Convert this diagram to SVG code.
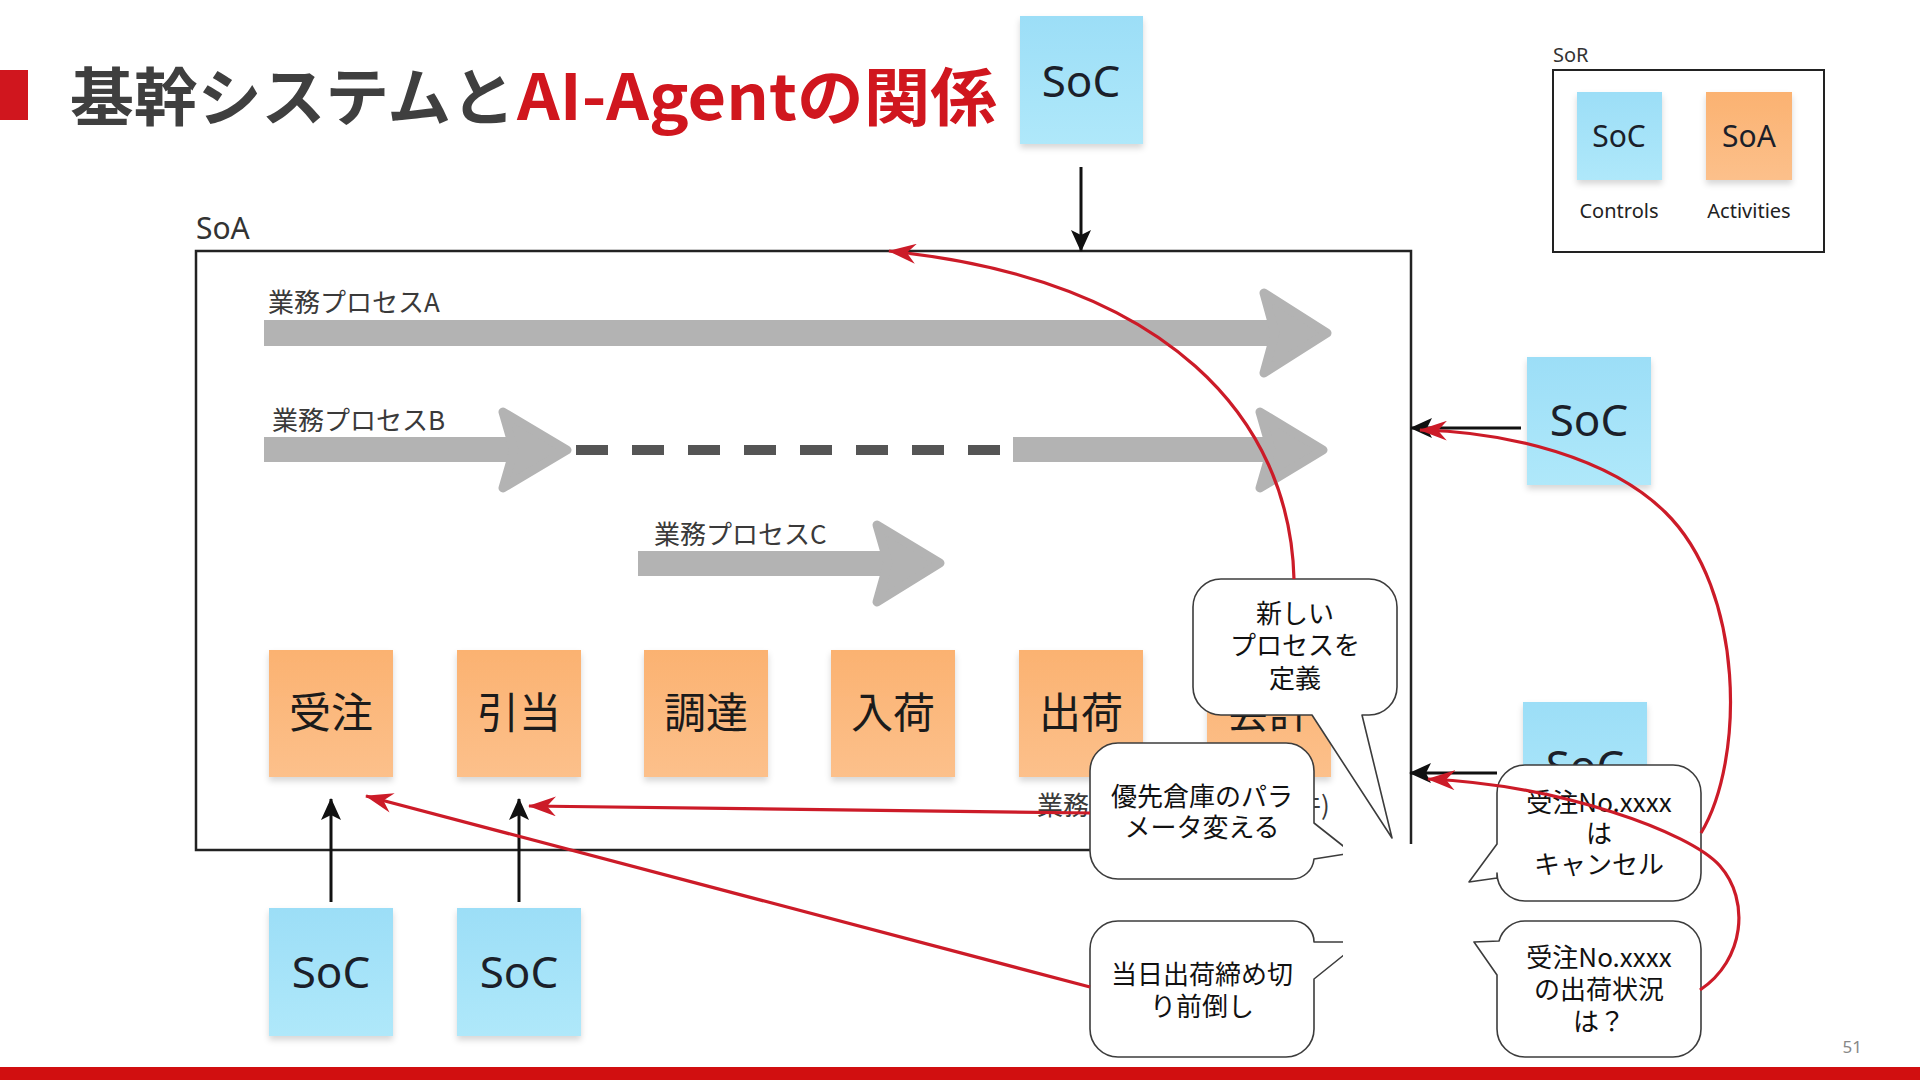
<svg xmlns="http://www.w3.org/2000/svg" width="1920" height="1080" viewBox="0 0 1920 1080">
<style>
.jp{font-family:"Noto Sans CJK JP","Noto Sans",sans-serif}
.lat{font-family:"Noto Sans","Noto Sans CJK JP",sans-serif}
.soc-t{font-size:44px;fill:#1b1f2a;text-anchor:middle}
.act-t{font-size:42px;fill:#1b1b1b;text-anchor:middle}
.lbl{font-size:26px;fill:#3a3a3a}
.bub{fill:#fff;stroke:#3c3c3c;stroke-width:1.6;stroke-linejoin:round}
.bt{font-size:26px;fill:#111;text-anchor:middle}
.shaft{fill:#b3b3b3}
.head{fill:#b3b3b3;stroke:#b3b3b3;stroke-width:9;stroke-linejoin:round}
.blk{fill:none;stroke:#111;stroke-width:3}
.red{fill:none;stroke:#cc1b28;stroke-width:3.2}
</style>
<defs>
<linearGradient id="gSoc" x1="0" y1="0" x2="0" y2="1"><stop offset="0" stop-color="#9cdef7"/><stop offset="1" stop-color="#afe8fa"/></linearGradient>
<linearGradient id="gAct" x1="0" y1="0" x2="0" y2="1"><stop offset="0" stop-color="#fbb271"/><stop offset="1" stop-color="#fcc08b"/></linearGradient>
<filter id="sh" x="-10%" y="-10%" width="120%" height="130%"><feDropShadow dx="0" dy="4" stdDeviation="3" flood-color="#000" flood-opacity="0.16"/></filter>
<marker id="mb" markerUnits="userSpaceOnUse" viewBox="0 0 22 22" markerWidth="22" markerHeight="22" refX="21" refY="11" orient="auto"><path d="M0,1 L22,11 L0,21 L5,11 Z" fill="#111"/></marker>
<marker id="mr" markerUnits="userSpaceOnUse" viewBox="0 0 28 20" markerWidth="28" markerHeight="20" refX="27" refY="10" orient="auto"><path d="M0,0 L28,10 L0,20 L9,10 Z" fill="#cc1b28"/></marker>
</defs>
<rect width="1920" height="1080" fill="#fff"/>

<g id="title">
<rect x="0" y="70" width="28" height="50" fill="#d0161e"/>
<text class="jp" x="70" y="120" font-size="63" font-weight="700" fill="#3f3f3f" textLength="445" lengthAdjust="spacingAndGlyphs">基幹システムと</text>
<text class="jp" x="517" y="120" font-size="63" font-weight="700" fill="#d0161e" textLength="480" lengthAdjust="spacingAndGlyphs">AI-Agentの関係</text>
</g>

<g id="legend">
<text class="lat" x="1553" y="62" font-size="20" fill="#333">SoR</text>
<rect x="1553" y="70" width="271" height="182" fill="none" stroke="#222" stroke-width="2"/>
<rect x="1577" y="92" width="85" height="88" fill="url(#gSoc)" filter="url(#sh)"/>
<text class="lat" x="1619" y="147" font-size="30" fill="#1b1f2a" text-anchor="middle">SoC</text>
<rect x="1706" y="92" width="86" height="88" fill="url(#gAct)" filter="url(#sh)"/>
<text class="lat" x="1749" y="147" font-size="30" fill="#1b1f2a" text-anchor="middle">SoA</text>
<text class="lat" x="1619" y="218" font-size="20" fill="#222" text-anchor="middle">Controls</text>
<text class="lat" x="1749" y="218" font-size="20" fill="#222" text-anchor="middle">Activities</text>
</g>

<g id="soa-box">
<text class="lat" x="196" y="239" font-size="30" fill="#333">SoA</text>
<rect x="196" y="251" width="1215" height="599" fill="none" stroke="#222" stroke-width="2.5"/>
</g>

<g id="process-a">
<rect class="shaft" x="264" y="320" width="1026" height="26"/>
<path class="head" d="M1264,293 L1327,333 L1264,373 L1275,333 Z"/>
<text class="jp lbl" x="268" y="312">業務プロセスA</text>
</g>
<g id="process-b">
<rect class="shaft" x="264" y="437" width="266" height="25"/>
<path class="head" d="M503,412 L567,450 L503,488 L514,450 Z"/>
<line x1="576" y1="450" x2="1001" y2="450" stroke="#555" stroke-width="10" stroke-dasharray="32 24"/>
<rect class="shaft" x="1013" y="437" width="272" height="25"/>
<path class="head" d="M1260,412 L1323,450 L1260,488 L1271,450 Z"/>
<text class="jp lbl" x="272" y="430">業務プロセスB</text>
</g>
<g id="process-c">
<rect class="shaft" x="638" y="551" width="262" height="25"/>
<path class="head" d="M877,525 L940,563 L877,602 L888,563 Z"/>
<text class="jp lbl" x="654" y="544">業務プロセスC</text>
</g>

<g id="soc-top"><rect x="1020" y="16" width="123" height="128" fill="url(#gSoc)" filter="url(#sh)"/><text class="lat soc-t" x="1081" y="97">SoC</text></g>
<g id="soc-right"><rect x="1527" y="357" width="124" height="128" fill="url(#gSoc)" filter="url(#sh)"/><text class="lat soc-t" x="1589" y="436">SoC</text></g>
<g id="soc-right2"><rect x="1523" y="702" width="124" height="128" fill="url(#gSoc)" filter="url(#sh)"/><text class="lat soc-t" x="1585" y="782">SoC</text></g>
<g id="soc-b1"><rect x="269" y="908" width="124" height="128" fill="url(#gSoc)" filter="url(#sh)"/><text class="lat soc-t" x="331" y="988">SoC</text></g>
<g id="soc-b2"><rect x="457" y="908" width="124" height="128" fill="url(#gSoc)" filter="url(#sh)"/><text class="lat soc-t" x="519" y="988">SoC</text></g>

<g id="act-juchu"><rect x="269" y="650" width="124" height="127" fill="url(#gAct)" filter="url(#sh)"/><text class="jp act-t" x="331" y="728">受注</text></g>
<g id="act-hikiate"><rect x="457" y="650" width="124" height="127" fill="url(#gAct)" filter="url(#sh)"/><text class="jp act-t" x="519" y="728">引当</text></g>
<g id="act-chotatsu"><rect x="644" y="650" width="124" height="127" fill="url(#gAct)" filter="url(#sh)"/><text class="jp act-t" x="706" y="728">調達</text></g>
<g id="act-nyuka"><rect x="831" y="650" width="124" height="127" fill="url(#gAct)" filter="url(#sh)"/><text class="jp act-t" x="893" y="728">入荷</text></g>
<g id="act-shukka"><rect x="1019" y="650" width="124" height="127" fill="url(#gAct)" filter="url(#sh)"/><text class="jp act-t" x="1081" y="728">出荷</text></g>
<g id="act-kaikei"><rect x="1207" y="650" width="124" height="127" fill="url(#gAct)" filter="url(#sh)"/><text class="jp act-t" x="1269" y="728">会計</text></g>

<g id="hidden-label">
<text class="jp lbl" x="1037" y="815">業務</text>
<text class="jp lbl" x="1295" y="815">件)</text>
</g>

<g id="bubble-new">
<path class="bub" d="M1221,579 H1369 A28,28 0 0 1 1397,607 V687 A28,28 0 0 1 1369,715 H1362 L1392,838 L1312,715 H1221 A28,28 0 0 1 1193,687 V607 A28,28 0 0 1 1221,579 Z"/>
<text class="jp bt" x="1295" y="623">新しい</text>
<text class="jp bt" x="1295" y="655">プロセスを</text>
<text class="jp bt" x="1295" y="688">定義</text>
</g>
<g id="bubble-param">
<path class="bub" d="M1118,743 H1286 A28,28 0 0 1 1314,771 V823 L1352,853 L1314,859 A22,22 0 0 1 1292,879 H1118 A28,28 0 0 1 1090,851 V771 A28,28 0 0 1 1118,743 Z"/>
<text class="jp bt" x="1202" y="806">優先倉庫のパラ</text>
<text class="jp bt" x="1202" y="837">メータ変える</text>
</g>
<g id="bubble-cutoff">
<path class="bub" d="M1118,921 H1293 A21,21 0 0 1 1314,942 L1360,942 L1314,979 V1029 A28,28 0 0 1 1286,1057 H1118 A28,28 0 0 1 1090,1029 V949 A28,28 0 0 1 1118,921 Z"/>
<text class="jp bt" x="1202" y="984">当日出荷締め切</text>
<text class="jp bt" x="1202" y="1016">り前倒し</text>
</g>
<rect x="1343" y="844" width="117" height="166" fill="#fff"/>
<g id="bubble-cancel">
<path class="bub" d="M1525,765 H1673 A28,28 0 0 1 1701,793 V873 A28,28 0 0 1 1673,901 H1525 A28,28 0 0 1 1497,873 V878 L1469,882 L1497,844 V793 A28,28 0 0 1 1525,765 Z"/>
<text class="jp bt" x="1599" y="812">受注No.xxxx</text>
<text class="jp bt" x="1599" y="843">は</text>
<text class="jp bt" x="1599" y="874">キャンセル</text>
</g>
<g id="bubble-status">
<path class="bub" d="M1525,921 H1673 A28,28 0 0 1 1701,949 V1029 A28,28 0 0 1 1673,1057 H1525 A28,28 0 0 1 1497,1029 V975 L1474,942 L1499,941 A27,27 0 0 1 1525,921 Z"/>
<text class="jp bt" x="1599" y="967">受注No.xxxx</text>
<text class="jp bt" x="1599" y="999">の出荷状況</text>
<text class="jp bt" x="1599" y="1031">は？</text>
</g>

<g id="connectors">
<path class="blk" d="M1081,167 L1081,251" marker-end="url(#mb)"/>
<path class="blk" d="M1521,428 L1411,428" marker-end="url(#mb)"/>
<path class="blk" d="M1497,773 L1410,773" marker-end="url(#mb)"/>
<path class="blk" d="M331,902 L331,799" marker-end="url(#mb)"/>
<path class="blk" d="M519,902 L519,799" marker-end="url(#mb)"/>
<path class="red" d="M1294,579 C1290,420 1170,280 889,251" marker-end="url(#mr)"/>
<path class="red" d="M1701,833 C1745,760 1745,590 1665,512 C1610,458 1510,432 1420,430" marker-end="url(#mr)"/>
<path class="red" d="M1700,990 C1745,960 1750,900 1720,866 C1690,832 1560,785 1428,779" marker-end="url(#mr)"/>
<path class="red" d="M1090,813 L529,806" marker-end="url(#mr)"/>
<path class="red" d="M1090,987 L366,796" marker-end="url(#mr)"/>
</g>

<g id="footer">
<text class="lat" x="1862" y="1053" font-size="17" fill="#888" text-anchor="end">51</text>
<rect x="0" y="1067" width="1920" height="13" fill="#d10f10"/>
</g>
</svg>
